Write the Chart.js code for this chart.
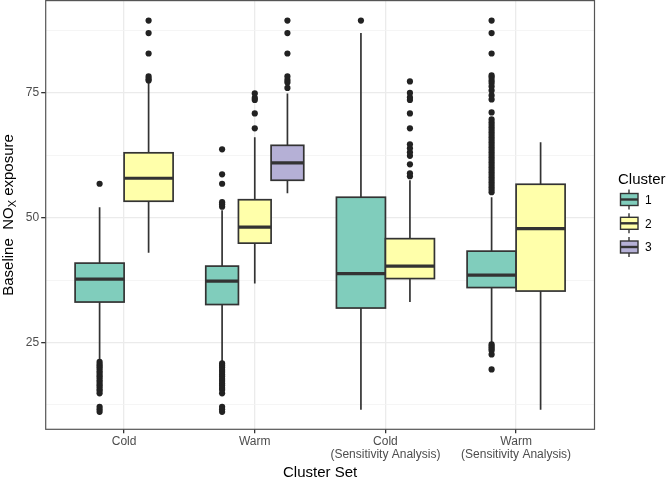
<!DOCTYPE html>
<html>
<head>
<meta charset="utf-8">
<script src="https://cdn.jsdelivr.net/npm/chart.js@4.4.0/dist/chart.umd.min.js"></script>
<style>
  html, body { margin: 0; padding: 0; background: #fff; }
  #wrap { width: 666px; height: 478px; }
</style>
</head>
<body>
<div id="wrap"><canvas id="chart" width="666" height="478"></canvas></div>
<script>
// x categories
const clusterSets = ["Cold", "Warm", ["Cold", "(Sensitivity Analysis)"], ["Warm", "(Sensitivity Analysis)"]];
const clusterNames = ["1", "2", "3"];
const clusterColors = ["#80cdbc", "#ffffaa", "#b5b0d6"];

// y axis
const yMajorTicks = [25, 50, 75];
const yMinorTicks = [12.5, 37.5, 62.5, 87.5];

// one entry per box
const boxSet      = [0, 0, 1, 1, 1, 2, 2, 3, 3];
const boxCluster  = [0, 1, 0, 1, 2, 0, 1, 0, 1];
const whiskerLow  = [21.5, 43.0, 21.1, 36.8, 54.9, 11.5, 33.1, 25.1, 11.5];
const quart1      = [33.1, 53.3, 32.6, 44.9, 57.5, 31.9, 37.8, 36.0, 35.3];
const medians     = [37.7, 57.9, 37.3, 48.1, 61.0, 38.8, 40.3, 38.5, 47.8];
const quart3      = [40.9, 63.0, 40.3, 53.6, 64.5, 54.1, 45.8, 43.3, 56.7];
const whiskerHigh = [52.1, 77.1, 51.5, 66.1, 74.9, 87.0, 57.5, 54.1, 65.1];
const outliers = [
  [56.8, 21.1, 20.6, 20.2, 19.8, 19.3, 18.9, 18.4, 18.0, 17.5, 17.1, 16.6, 16.2, 15.7, 15.3, 14.8, 12.1, 11.6, 11.1],
  [77.5, 77.8, 78.3, 82.9, 87.0, 89.5],
  [52.2, 52.7, 53.1, 56.8, 58.7, 63.7, 20.8, 20.4, 20.0, 19.5, 19.1, 18.6, 18.2, 17.7, 17.3, 16.8, 16.4, 15.9, 15.5, 14.8, 12.1, 11.6, 11.1],
  [67.9, 70.9, 73.6, 74.0, 74.9],
  [76.0, 77.1, 77.6, 78.3, 82.9, 87.0, 89.5],
  [89.5],
  [58.3, 58.9, 60.7, 62.4, 63.1, 63.9, 64.7, 67.9, 70.9, 73.6, 74.1, 75.0, 77.3],
  [55.1, 55.6, 56.1, 56.6, 57.1, 57.6, 58.1, 58.6, 59.1, 59.6, 60.1, 60.6, 61.1, 61.6, 62.1, 62.6, 63.1, 63.6,
   64.1, 64.6, 65.1, 65.6, 66.1, 66.6, 67.1, 67.6, 68.1, 68.6, 69.1, 69.7, 71.1, 73.7, 74.5, 75.5, 76.3, 77.0,
   77.5, 78.1, 78.5, 82.9, 87.0, 89.5, 24.6, 24.2, 23.8, 23.4, 22.6, 19.6],
  []
];

// dodge: centre of each box in category units
const dodgeWidth = 0.75;
function boxCentre(i) {
  const set = boxSet[i];
  const n = boxSet.filter(s => s === set).length;
  const k = boxSet.slice(0, i).filter(s => s === set).length;
  const w = dodgeWidth / n;
  return {c: set - dodgeWidth / 2 + w * (k + 0.5), w: w};
}

const outlierPoints = [];
outliers.forEach((list, i) => {
  const pos = boxCentre(i);
  list.forEach(v => outlierPoints.push({x: pos.c, y: v}));
});

const boxPlugin = {
  id: "boxes",
  beforeDatasetsDraw(chart) {
    const {ctx, chartArea, scales: {x, y}} = chart;
    ctx.save();
    ctx.beginPath();
    ctx.rect(chartArea.left, chartArea.top, chartArea.width, chartArea.height);
    ctx.clip();
    boxSet.forEach((s, i) => {
      const pos = boxCentre(i);
      const cx = x.getPixelForValue(pos.c);
      const x0 = x.getPixelForValue(pos.c - pos.w / 2);
      const x1 = x.getPixelForValue(pos.c + pos.w / 2);
      const yq1 = y.getPixelForValue(quart1[i]);
      const yq3 = y.getPixelForValue(quart3[i]);
      ctx.strokeStyle = "#333333";
      ctx.lineWidth = 1.7;
      ctx.beginPath();
      ctx.moveTo(cx, y.getPixelForValue(whiskerHigh[i]));
      ctx.lineTo(cx, yq3);
      ctx.moveTo(cx, yq1);
      ctx.lineTo(cx, y.getPixelForValue(whiskerLow[i]));
      ctx.stroke();
      ctx.fillStyle = clusterColors[boxCluster[i]];
      ctx.fillRect(x0, yq3, x1 - x0, yq1 - yq3);
      ctx.strokeRect(x0, yq3, x1 - x0, yq1 - yq3);
      ctx.lineWidth = 3.2;
      ctx.beginPath();
      const ym = y.getPixelForValue(medians[i]);
      ctx.moveTo(x0, ym);
      ctx.lineTo(x1, ym);
      ctx.stroke();
    });
    ctx.restore();
  },
  afterDraw(chart) {
    const {ctx, chartArea} = chart;
    ctx.save();
    // panel border
    ctx.strokeStyle = "#555555";
    ctx.lineWidth = 1.2;
    ctx.strokeRect(chartArea.left, chartArea.top, chartArea.width, chartArea.height);

    // y title with subscript
    const cy = (chartArea.top + chartArea.bottom) / 2;
    ctx.fillStyle = "#000";
    ctx.textBaseline = "alphabetic";
    ctx.textAlign = "left";
    const big = "15px 'Liberation Sans', Arial, sans-serif";
    const small = "11px 'Liberation Sans', Arial, sans-serif";
    ctx.font = big;
    const p1 = "Baseline  NO", p3 = " exposure";
    const w1 = ctx.measureText(p1).width, w3 = ctx.measureText(p3).width;
    ctx.font = small;
    const w2 = ctx.measureText("X").width;
    const total = w1 + w2 + w3;
    ctx.translate(12.7, cy);
    ctx.rotate(-Math.PI / 2);
    ctx.font = big;
    ctx.fillText(p1, -total / 2, 0);
    ctx.font = small;
    ctx.fillText("X", -total / 2 + w1, 3.5);
    ctx.font = big;
    ctx.fillText(p3, -total / 2 + w1 + w2, 0);
    ctx.setTransform(1, 0, 0, 1, 0, 0);

    // x title
    ctx.textAlign = "center";
    ctx.font = big;
    ctx.fillText("Cluster Set", (chartArea.left + chartArea.right) / 2, 476.5);

    // legend
    ctx.textAlign = "left";
    ctx.fillText("Cluster", 618, 183.5);
    const rows = [199.5, 223.3, 247];
    clusterNames.forEach((name, k) => {
      const ry = rows[k];
      ctx.strokeStyle = "#333333";
      ctx.lineWidth = 1.4;
      ctx.beginPath();
      ctx.moveTo(629, ry - 10);
      ctx.lineTo(629, ry + 10);
      ctx.stroke();
      ctx.fillStyle = clusterColors[k];
      ctx.fillRect(620.5, ry - 6, 17.5, 12);
      ctx.strokeRect(620.5, ry - 6, 17.5, 12);
      ctx.lineWidth = 2.4;
      ctx.beginPath();
      ctx.moveTo(620.5, ry);
      ctx.lineTo(638, ry);
      ctx.stroke();
      ctx.fillStyle = "#000";
      ctx.font = "12px 'Liberation Sans', Arial, sans-serif";
      ctx.textBaseline = "middle";
      ctx.fillText(name, 645, ry + 1);
      ctx.textBaseline = "alphabetic";
    });
    ctx.restore();
  }
};

new Chart(document.getElementById("chart"), {
  type: "scatter",
  data: {
    datasets: [{
      label: "outliers",
      data: outlierPoints,
      pointRadius: 3.1,
      pointHoverRadius: 3.1,
      pointBackgroundColor: "#222222",
      pointBorderWidth: 0
    }]
  },
  options: {
    responsive: false,
    animation: false,
    events: [],
    layout: {autoPadding: false, padding: {left: 0, top: 0.6, right: 71.5, bottom: 0}},
    plugins: {legend: {display: false}, tooltip: {enabled: false}},
    scales: {
      x: {
        type: "linear",
        min: -0.6,
        max: 3.6,
        afterBuildTicks: s => { s.ticks = clusterSets.map((c, i) => ({value: i})); },
        afterFit: s => { s.height = 48.7; s.paddingLeft = 0; s.paddingRight = 0; },
        border: {display: false},
        grid: {color: "#ebebeb", lineWidth: 1.3, tickColor: "#333333", tickLength: 4},
        ticks: {
          color: "#4d4d4d",
          padding: 1.5,
          maxRotation: 0,
          autoSkip: false,
          font: {family: "'Liberation Sans', Arial, sans-serif", size: 12, lineHeight: 1.11},
          callback: v => clusterSets[v]
        }
      },
      y: {
        type: "linear",
        min: 7.6,
        max: 93.5,
        afterBuildTicks: s => {
          s.ticks = yMinorTicks.concat(yMajorTicks).sort((a, b) => a - b).map(v => ({value: v}));
        },
        afterFit: s => { s.width = 45.7; s.paddingTop = 0; s.paddingBottom = 0; },
        border: {display: false},
        grid: {
          color: c => yMajorTicks.includes(c.tick.value) ? "#ebebeb" : "#f2f2f2",
          lineWidth: c => yMajorTicks.includes(c.tick.value) ? 1.3 : 0.8,
          tickColor: c => yMajorTicks.includes(c.tick.value) ? "#333333" : "rgba(0,0,0,0)",
          tickLength: 4.5
        },
        ticks: {
          color: "#4d4d4d",
          padding: 2,
          autoSkip: false,
          font: {family: "'Liberation Sans', Arial, sans-serif", size: 12},
          callback: v => yMajorTicks.includes(v) ? String(v) : ""
        }
      }
    }
  },
  plugins: [boxPlugin]
});
</script>
</body>
</html>
